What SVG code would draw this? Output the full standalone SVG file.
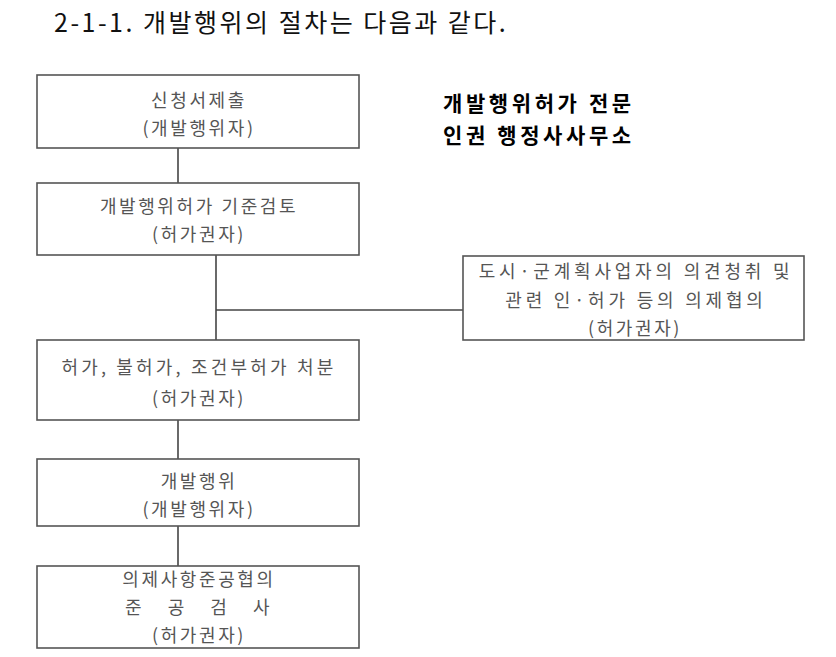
<svg xmlns="http://www.w3.org/2000/svg" width="836" height="657" viewBox="0 0 836 657">
<style>
.box{fill:#fff;stroke:#555;stroke-width:1.6}
.ln{stroke:#444;stroke-width:1.6;fill:none}
.t{font-family:"Noto Sans CJK KR","Noto Sans",sans-serif;font-size:18px;fill:#555;text-anchor:middle;dominant-baseline:central;letter-spacing:2.6px}
.w{letter-spacing:3.8px}
.title{font-family:"Noto Sans CJK KR","Noto Sans",sans-serif;font-size:25px;fill:#111;letter-spacing:2.5px}
.b{font-family:"Noto Sans CJK KR","Noto Sans",sans-serif;font-size:21px;font-weight:bold;fill:#000;letter-spacing:3.6px}
</style>
<rect width="836" height="657" fill="#fff"/>
<text class="title" x="54" y="32">2-1-1. 개발행위의 절차는 다음과 같다.</text>
<text class="b" x="443" y="111">개발행위허가 전문</text>
<text class="b" x="443" y="143">인권 행정사사무소</text>
<g id="connectors">
<line class="ln" x1="178" y1="148" x2="178" y2="183"/>
<line class="ln" x1="216" y1="255" x2="216" y2="340"/>
<line class="ln" x1="216" y1="310" x2="463" y2="310"/>
<line class="ln" x1="178" y1="420" x2="178" y2="459"/>
<line class="ln" x1="178" y1="526" x2="178" y2="566"/>
</g>
<g id="n1"><rect class="box" x="37" y="75" width="322" height="73"/>
<text class="t" x="199" y="99">신청서제출</text><text class="t" x="199" y="127">(개발행위자)</text></g>
<g id="n2"><rect class="box" x="37" y="183" width="322" height="72"/>
<text class="t" x="199" y="205">개발행위허가 기준검토</text><text class="t" x="199" y="233">(허가권자)</text></g>
<g id="n3"><rect class="box" x="463" y="256" width="341" height="84"/>
<text class="t w" x="636" y="270">도시·군계획사업자의 의견청취 및</text><text class="t w" x="636" y="299">관련 인·허가 등의 의제협의</text><text class="t" x="635" y="327">(허가권자)</text></g>
<g id="n4"><rect class="box" x="37" y="340" width="322" height="80"/>
<text class="t" x="199" y="366" style="letter-spacing:3.2px">허가, 불허가, 조건부허가 처분</text><text class="t" x="199" y="397">(허가권자)</text></g>
<g id="n5"><rect class="box" x="37" y="459" width="322" height="67"/>
<text class="t" x="199" y="480">개발행위</text><text class="t" x="199" y="508">(개발행위자)</text></g>
<g id="n6"><rect class="box" x="37" y="566" width="322" height="82"/>
<text class="t" x="199" y="578">의제사항준공협의</text><text class="t" x="199" y="606" style="letter-spacing:3.5px" xml:space="preserve">준   공   검   사</text><text class="t" x="199" y="634">(허가권자)</text></g>
</svg>
